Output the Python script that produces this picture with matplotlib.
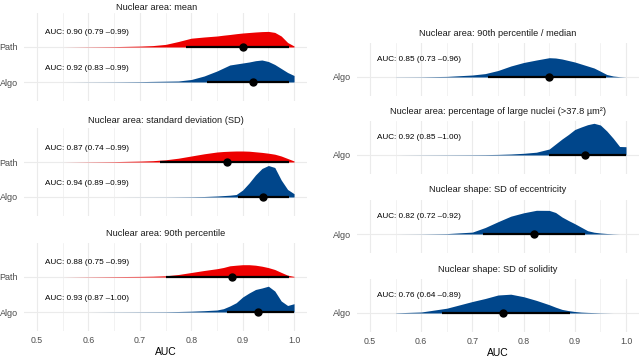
import matplotlib
matplotlib.use("Agg")
import matplotlib.pyplot as plt

plt.rcParams.update({"font.family": ["Liberation Sans", "DejaVu Sans"]})

RED, BLUE = "#ED0000", "#00468B"
W, H = 640, 359

# --- data ----------------------------------------------------------------
auc_grid = [0.55, 0.60, 0.65, 0.70, 0.725, 0.75, 0.775, 0.80, 0.825, 0.85,
            0.8625, 0.875, 0.8875, 0.90, 0.9125, 0.925, 0.9375, 0.95,
            0.9625, 0.975, 0.9875, 1.00]

# slab heights (pixels at 35 px per row)
mean_path_dens = [0, 0.2, 0.4, 0.9, 1.4, 2.6, 5.5, 8.8, 10, 11, 11.8, 12.5,
                  13.3, 14, 14.5, 15, 15.4, 15.6, 14.6, 11, 4.5, 1]
mean_algo_dens = [0, 0.1, 0.2, 0.4, 0.6, 0.8, 1.0, 2.5, 6, 11, 14, 17, 18,
                  19, 20, 21.3, 22, 20.5, 17.5, 13.5, 9.5, 6.5]
sd_path_dens = [0, 0.2, 0.4, 0.9, 1.3, 2.2, 3.8, 6, 8.2, 10, 10.5, 10.8, 11,
                11, 10.8, 10.2, 9.6, 8.8, 7.8, 6, 3.5, 1]
sd_algo_dens = [0, 0, 0, 0.05, 0.08, 0.1, 0.2, 0.3, 0.5, 1, 1.4, 1.8, 2.5,
                7, 14, 22, 28.5, 31.5, 29.5, 17, 7.5, 3.3]
p90_path_dens = [0, 0.2, 0.4, 0.6, 0.8, 1.2, 2.5, 4.5, 6.5, 8.3, 9.5, 11.2,
                 11.8, 12.3, 12.3, 11.8, 10.8, 9.4, 7.5, 4.6, 1.8, 0.6]
p90_algo_dens = [0, 0, 0.1, 0.2, 0.25, 0.3, 0.5, 0.8, 1.3, 2, 3.3, 6, 9.3,
                 15, 19, 22.5, 24, 25.8, 21, 11, 6.5, 8.3]
ratio_algo_dens = [0.1, 0.2, 0.6, 2, 3.4, 6.5, 11, 14.5, 17, 19.3, 19, 18,
                   16.5, 15, 13, 11, 9, 5.8, 2.5, 1, 0.3, 0]
large_algo_dens = [0, 0.1, 0.2, 0.3, 0.4, 0.6, 1, 1.7, 2.8, 6, 11, 16, 20.5,
                   25.5, 28, 30.3, 31.7, 30, 24, 16.7, 8.5, 8.3]
ecc_algo_dens = [0, 0.1, 0.4, 1.9, 6.5, 12.3, 17.8, 21.2, 23.7, 23.6, 21.5,
                 17, 13.5, 10.3, 6.8, 3.3, 1.8, 1, 0.5, 0.2, 0, 0]
sol_algo_dens = [0.2, 1, 4.8, 11.5, 14.5, 18, 18.8, 16.3, 12.6, 8.3, 5.8,
                 3.6, 2.4, 1.5, 0.9, 0.6, 0.4, 0.2, 0.1, 0, 0, 0]

left_titles = ["Nuclear area: mean", "Nuclear area: standard deviation (SD)",
               "Nuclear area: 90th percentile"]
left_path_auc = [0.90, 0.87, 0.88]
left_path_lo = [0.79, 0.74, 0.75]
left_path_hi = [0.99, 0.99, 0.99]
left_algo_auc = [0.92, 0.94, 0.93]
left_algo_lo = [0.83, 0.89, 0.87]
left_algo_hi = [0.99, 0.99, 1.00]
left_path_dens = [mean_path_dens, sd_path_dens, p90_path_dens]
left_algo_dens = [mean_algo_dens, sd_algo_dens, p90_algo_dens]

right_titles = ["Nuclear area: 90th percentile / median",
                "Nuclear area: percentage of large nuclei (>37.8 µm²)",
                "Nuclear shape: SD of eccentricity",
                "Nuclear shape: SD of solidity"]
right_auc = [0.85, 0.92, 0.82, 0.76]
right_lo = [0.73, 0.85, 0.72, 0.64]
right_hi = [0.96, 1.00, 0.92, 0.89]
right_dens = [ratio_algo_dens, large_algo_dens, ecc_algo_dens, sol_algo_dens]

ticks = [0.5, 0.6, 0.7, 0.8, 0.9, 1.0]
tick_labels = ["0.5", "0.6", "0.7", "0.8", "0.9", "1.0"]

ROW = 35.0   # px per row unit


def make_ax(fig, l, r, t, b):
    return fig.add_axes([l / W, 1 - b / H, (r - l) / W, (b - t) / H])


def style(ax, rows, labels, bottom):
    ax.set_xlim(0.475, 1.025)
    ax.set_xticks(ticks)
    ax.set_xticks([0.55, 0.65, 0.75, 0.85, 0.95], minor=True)
    ax.set_yticks(rows)
    ax.set_yticklabels(labels, fontsize=6.5, color="#4D4D4D")
    ax.grid(True, which="major", color="#EBEBEB", lw=0.8)
    ax.grid(True, which="minor", axis="x", color="#EBEBEB", lw=0.45)
    ax.set_axisbelow(True)
    for s in ax.spines.values():
        s.set_visible(False)
    ax.tick_params(which="both", length=0)
    ax.tick_params(axis="y", pad=4.5)
    if bottom:
        ax.set_xticklabels(tick_labels, fontsize=6.3, color="#4D4D4D")
        ax.tick_params(axis="x", pad=3.5)
        ax.set_xlabel("AUC", fontsize=7.5, labelpad=1.8)
    else:
        ax.set_xticklabels([])


def halfeye(ax, row, dens, color, auc, lo, hi, text_x, text_dy):
    top = [row + d / ROW for d in dens]
    ax.fill_between(auc_grid, row, top, color=color, lw=0, zorder=2)
    ax.plot([lo, hi], [row, row], color="black", lw=1.6,
            solid_capstyle="butt", zorder=3)
    ax.plot([auc], [row], "o", color="black", ms=5, zorder=4)
    ax.text(text_x, row + text_dy / ROW,
            f"AUC: {auc:.2f} ({lo:.2f} \u2013{hi:.2f})",
            fontsize=5.9, va="center", ha="left", color="black", zorder=5)


fig = plt.figure(figsize=(W / 100, H / 100), dpi=100)

# left column: Path + Algo rows per panel
left_path_rows = [47, 162, 277]
left_title_x = [157, 166, 166]
left_title_y = [8, 120, 234]
for i in range(3):
    yp = left_path_rows[i]
    ax = make_ax(fig, 24.2, 306.9, yp - 34, yp + ROW + 19)
    ax.set_ylim(-19 / ROW, 1 + 34 / ROW)
    style(ax, [0, 1], ["Algo", "Path"], i == 2)
    halfeye(ax, 1, left_path_dens[i], RED, left_path_auc[i],
            left_path_lo[i], left_path_hi[i], 0.515, 14)
    halfeye(ax, 0, left_algo_dens[i], BLUE, left_algo_auc[i],
            left_algo_lo[i], left_algo_hi[i], 0.515, 13.5)
    fig.text(left_title_x[i] / W, 1 - left_title_y[i] / H, left_titles[i],
             fontsize=6.7, color="#1A1A1A", ha="center", va="center")

# right column: one Algo row per panel
right_rows = [77, 155, 234, 313]
for i in range(4):
    yr = right_rows[i]
    ax = make_ax(fig, 357.2, 638.8, yr - 34, yr + 19)
    ax.set_ylim(-19 / ROW, 34 / ROW)
    style(ax, [0], ["Algo"], i == 3)
    halfeye(ax, 0, right_dens[i], BLUE, right_auc[i], right_lo[i],
            right_hi[i], 0.513, 17.5)
    fig.text(498 / W, 1 - (yr - 44) / H, right_titles[i],
             fontsize=6.7, color="#1A1A1A", ha="center", va="center")

fig.savefig("out.png", dpi=100)
